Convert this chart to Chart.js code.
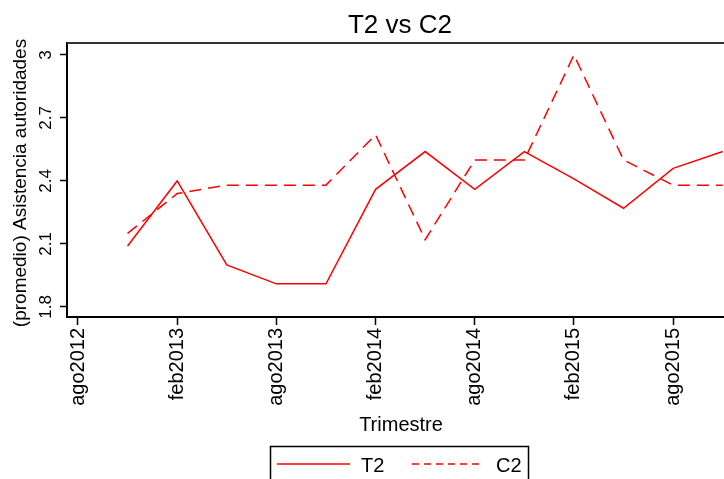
<!DOCTYPE html>
<html>
<head>
<meta charset="utf-8">
<script src="https://cdn.jsdelivr.net/npm/chart.js@4.4.1/dist/chart.umd.min.js"></script>
<style>
html,body{margin:0;padding:0;background:#fff;overflow:hidden;width:724px;height:479px;}
canvas{display:block;}
</style>
</head>
<body>
<canvas id="c" width="800" height="479" style="width:800px;height:479px"></canvas>
<script>
// ---- data ----
const quarters = ['nov2012','feb2013','may2013','ago2013','nov2013','feb2014','may2014','ago2014','nov2014','feb2015','may2015','ago2015','nov2015'];
const t2 = [2.09, 2.40, 2.00, 1.91, 1.91, 2.36, 2.54, 2.36, 2.54, 2.41, 2.27, 2.46, 2.54];
const c2 = [2.15, 2.34, 2.38, 2.38, 2.38, 2.62, 2.12, 2.50, 2.50, 3.00, 2.50, 2.38, 2.38];
const xTickLabels = ['ago2012','feb2013','ago2013','feb2014','ago2014','feb2015','ago2015'];
const yTicks = [1.8, 2.1, 2.4, 2.7, 3];
const seriesNames = ['T2', 'C2'];

const mesNum = {ene:0,feb:1,mar:2,abr:3,may:4,jun:5,jul:6,ago:7,sep:8,oct:9,nov:10,dic:11};
function monthIndex(lbl){
  const m = mesNum[lbl.slice(0,3)];
  const y = parseInt(lbl.slice(3),10);
  return (y - 2012) * 12 + m - 7;
}
const labelByMonth = {};
xTickLabels.forEach(l => labelByMonth[monthIndex(l)] = l);

const FONT = "'Liberation Sans', Arial, sans-serif";
const RED = 'rgb(255,0,0)';

const decor = {
  id: 'decor',
  afterDraw(chart){
    const ctx = chart.ctx, ca = chart.chartArea, ys = chart.scales.y;
    ctx.save();
    // frame top/right
    ctx.strokeStyle = '#333';
    ctx.lineWidth = 2;
    ctx.beginPath();
    ctx.moveTo(ca.left, ca.top);
    ctx.lineTo(ca.right, ca.top);
    ctx.lineTo(ca.right, ca.bottom);
    ctx.stroke();

    ctx.fillStyle = '#000';
    // y tick labels (rotated)
    ctx.font = "17px " + FONT;
    ctx.textAlign = 'center';
    ctx.textBaseline = 'middle';
    yTicks.forEach(v => {
      const y = ys.getPixelForValue(v);
      ctx.save();
      ctx.translate(46, y);
      ctx.rotate(-Math.PI/2);
      ctx.fillText(String(v), 0, 0);
      ctx.restore();
    });
    // y title
    ctx.font = "19px " + FONT;
    ctx.save();
    ctx.translate(21, (ca.top + ca.bottom)/2 + 3);
    ctx.rotate(-Math.PI/2);
    ctx.fillText('(promedio) Asistencia autoridades', 0, 0);
    ctx.restore();

    const cx = (ca.left + ca.right)/2;
    // title
    ctx.textBaseline = 'alphabetic';
    ctx.font = "26px " + FONT;
    ctx.fillText('T2 vs C2', cx, 33);
    // x title
    ctx.font = "20px " + FONT;
    ctx.fillText('Trimestre', cx + 1, 431);

    // legend
    ctx.strokeStyle = '#000';
    ctx.lineWidth = 1.5;
    ctx.strokeRect(270.5, 446.5, 258, 50);
    const ds = chart.data.datasets;
    ctx.lineWidth = 1.5;
    ctx.strokeStyle = ds[0].borderColor;
    ctx.setLineDash([]);
    ctx.beginPath(); ctx.moveTo(277, 464); ctx.lineTo(350, 464); ctx.stroke();
    ctx.strokeStyle = ds[1].borderColor;
    ctx.setLineDash([7,5]);
    ctx.beginPath(); ctx.moveTo(412, 464); ctx.lineTo(482, 464); ctx.stroke();
    ctx.setLineDash([]);
    ctx.textAlign = 'left';
    ctx.font = "20px " + FONT;
    ctx.fillText(ds[0].label, 361, 472);
    ctx.fillText(ds[1].label, 496, 472);
    ctx.restore();
  }
};

new Chart(document.getElementById('c'), {
  type: 'line',
  data: {
    datasets: [
      { label: seriesNames[0], data: quarters.map((q,i) => ({x: monthIndex(q), y: t2[i]})),
        borderColor: RED, borderWidth: 1.5, pointRadius: 0, tension: 0, fill: false },
      { label: seriesNames[1], data: quarters.map((q,i) => ({x: monthIndex(q), y: c2[i]})),
        borderColor: RED, borderWidth: 1.5, borderDash: [12,7], pointRadius: 0, tension: 0, fill: false }
    ]
  },
  options: {
    responsive: false,
    animation: false,
    devicePixelRatio: 1,
    layout: { padding: { left: 0, right: 67, top: 43, bottom: 0 } },
    plugins: { legend: { display: false }, title: { display: false }, tooltip: { enabled: false } },
    scales: {
      x: {
        type: 'linear',
        min: -0.665,
        max: 39.62,
        afterFit(s){ s.height = 162; },
        afterBuildTicks(s){ s.ticks = xTickLabels.map(l => ({ value: monthIndex(l) })); },
        ticks: {
          autoSkip: false, minRotation: 90, maxRotation: 90, padding: 3,
          color: '#000', font: { family: FONT, size: 20 },
          callback: v => labelByMonth[v] || ''
        },
        grid: { drawOnChartArea: false, tickLength: 8, color: '#000', tickWidth: 1.5 },
        border: { display: true, color: '#000', width: 2 }
      },
      y: {
        type: 'linear',
        min: 1.752,
        max: 3.057,
        afterFit(s){ s.width = 67; },
        afterBuildTicks(s){ s.ticks = yTicks.map(v => ({ value: v })); },
        ticks: { display: false },
        grid: { drawOnChartArea: false, tickLength: 7, color: '#000', tickWidth: 1.5 },
        border: { display: true, color: '#000', width: 2 }
      }
    }
  },
  plugins: [decor]
});
</script>
</body>
</html>
